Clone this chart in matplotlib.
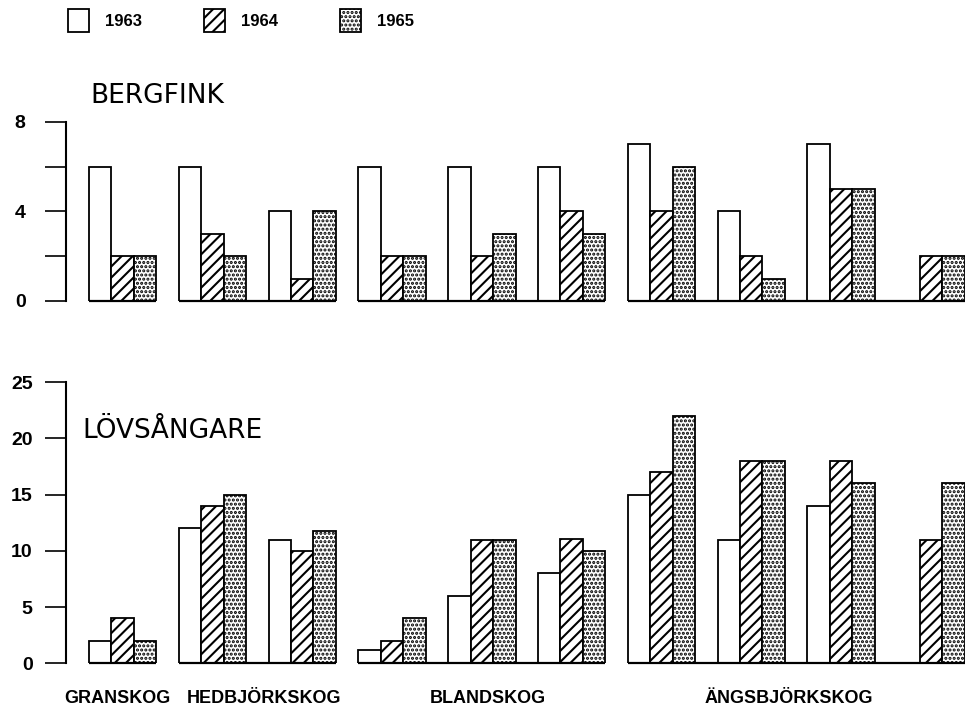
#!/usr/bin/env python3
"""Bergfink / Lovsangare density per site, 1963-1965."""

import matplotlib
matplotlib.use("Agg")
import matplotlib.pyplot as plt
from matplotlib.patches import Patch
import numpy as np


YEARS = ["1963", "1964", "1965"]
HATCHES = ["", "///", "...."]
HABITATS = ["GRANSKOG", "HEDBJÖRKSKOG", "BLANDSKOG", "ÄNGSBJÖRKSKOG"]
SITES_PER_HABITAT = [1, 2, 3, 4]

bergfink_1963 = [6, 6, 4, 6, 6, 6, 7, 4, 7, 0]
bergfink_1964 = [2, 3, 1, 2, 2, 4, 4, 2, 5, 2]
bergfink_1965 = [2, 2, 4, 2, 3, 3, 6, 1, 5, 2]

lovsangare_1963 = [2, 12, 11, 1.2, 6, 8, 15, 11, 14, 0]
lovsangare_1964 = [4, 14, 10, 2, 11, 11.1, 17, 18, 18, 11]
lovsangare_1965 = [2, 15, 11.8, 4, 11, 10, 22, 18, 16, 16]

bergfink_ticks = [0, 2, 4, 6, 8]
bergfink_ticklabels = ["0", "", "4", "", "8"]
lovsangare_ticks = [0, 5, 10, 15, 20, 25]

plt.rcParams["font.family"] = ["Liberation Sans", "DejaVu Sans"]
plt.rcParams["hatch.linewidth"] = 1.5

BAR_W = 0.25
XLIM = (-0.256, 9.755)
FIG_W, FIG_H = 965, 712
# small horizontal nudges (points) so the habitat names sit as in the print
LABEL_NUDGE = [-4, 5, 4, -5]


def habitat_spans():
    spans = []
    start = 0
    for n in SITES_PER_HABITAT:
        spans.append((start, start + n - 1 + 3 * BAR_W))
        start += n
    return spans


def draw_panel(ax, series, ymax, ticks, ticklabels, label_pad):
    x = np.arange(len(series[0]))
    for k, (values, hatch) in enumerate(zip(series, HATCHES)):
        ax.bar(x + k * BAR_W, values, width=BAR_W, align="edge",
               facecolor="white", edgecolor="black", linewidth=1.3,
               hatch=hatch, zorder=2)

    spans = habitat_spans()
    for i, (x0, x1) in enumerate(spans):
        if i == len(spans) - 1:
            x1 = XLIM[1]
        ax.hlines(0, x0, x1, color="black", linewidth=1.6, zorder=3, clip_on=False)

    ax.set_xlim(*XLIM)
    ax.set_ylim(0, ymax)
    ax.set_xticks([])
    for side in ("top", "right", "bottom"):
        ax.spines[side].set_visible(False)
    ax.spines["left"].set_linewidth(1.5)
    ax.set_yticks(ticks)
    ax.set_yticklabels(ticklabels, fontsize=14, fontweight="bold")
    ax.tick_params(axis="y", length=15, width=1.2, pad=label_pad)
    ax.patch.set_visible(False)
    return spans


fig = plt.figure(figsize=(FIG_W / 100, FIG_H / 100), dpi=100)
left = 66 / FIG_W
width = 1 - left

ax_top = fig.add_axes([left, (FIG_H - 301) / FIG_H, width, 179.3 / FIG_H])
draw_panel(ax_top, [bergfink_1963, bergfink_1964, bergfink_1965],
           8, bergfink_ticks, bergfink_ticklabels, 14)
ax_top.text(0.0275, 1.143, "BERGFINK", transform=ax_top.transAxes,
            family="DejaVu Sans", fontsize=19, va="center", ha="left")

ax_bot = fig.add_axes([left, (FIG_H - 663.3) / FIG_H, width, 281 / FIG_H])
spans = draw_panel(ax_bot, [lovsangare_1963, lovsangare_1964, lovsangare_1965],
                   25, lovsangare_ticks, [str(t) for t in lovsangare_ticks], 9)
for name, (a, b), dx in zip(HABITATS, spans, LABEL_NUDGE):
    ax_bot.annotate(name, xy=((a + b) / 2, 0), xycoords=("data", "axes fraction"),
                    xytext=(dx, -25), textcoords="offset points",
                    ha="center", va="center", fontsize=13, fontweight="bold",
                    annotation_clip=False)
ax_bot.text(0.0178, 0.827, "LÖVSÅNGARE", transform=ax_bot.transAxes,
            family="DejaVu Sans", fontsize=19, va="center", ha="left")

handles = [Patch(facecolor="white", edgecolor="black", linewidth=1.3, hatch=h)
           for h in HATCHES]
fig.legend(handles, YEARS, loc="upper left",
           bbox_to_anchor=(68 / FIG_W, 1 - 9 / FIG_H),
           ncol=3, frameon=False, borderpad=0, borderaxespad=0,
           handlelength=1.25, handleheight=1.7, handletextpad=0.95,
           columnspacing=3.75, prop={"size": 12, "weight": "bold"})

fig.savefig("out.png", dpi=100)
